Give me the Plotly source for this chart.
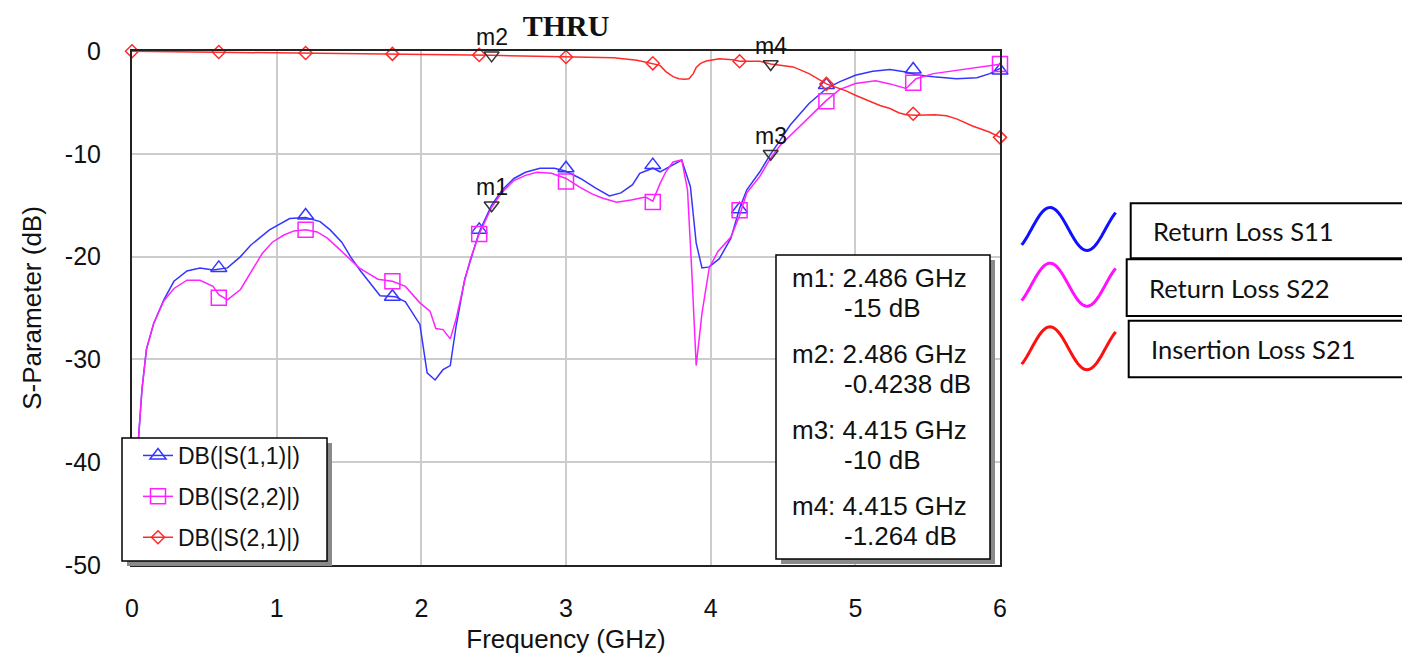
import numpy as np
import plotly.graph_objects as go

# ---------------- data ----------------
s11_f = [0, 0.025, 0.046, 0.069, 0.1, 0.15, 0.22, 0.29, 0.38, 0.47, 0.56, 0.66, 0.75, 0.82, 0.95,
         1.09, 1.2, 1.3, 1.37, 1.45, 1.51, 1.58, 1.65, 1.715, 1.82, 1.89, 1.99, 2.04, 2.095, 2.15,
         2.2, 2.24, 2.3, 2.34, 2.4, 2.486, 2.56, 2.64, 2.72, 2.82, 2.92, 3.0, 3.1, 3.2, 3.3, 3.38,
         3.46, 3.51, 3.557, 3.6, 3.65, 3.72, 3.8, 3.86, 3.9, 3.94, 3.99, 4.06, 4.14, 4.2, 4.25,
         4.34, 4.415, 4.48, 4.55, 4.68, 4.8, 4.89, 5.0, 5.12, 5.24, 5.35, 5.42, 5.54, 5.7, 5.84,
         5.93, 6.0]
s11_db = [-48, -42, -37.5, -32.9, -29, -26.5, -24.2, -22.4, -21.4, -21.1, -21.3, -21.1, -20, -18.9,
          -17.4, -16.3, -16.2, -16.6, -17.4, -18.6, -20, -21.4, -22.6, -23.8, -23.9, -24.4, -26.6,
          -31.3, -32, -31, -30.6, -26.8, -22.2, -20.3, -17.6, -15, -13.5, -12.4, -11.8, -11.4,
          -11.4, -11.7, -12.4, -13.3, -14.1, -13.8, -13, -11.9, -11.6, -11.4, -11.75, -11.25,
          -10.6, -13.2, -18.7, -21.1, -21, -20.2, -18.2, -15.3, -13.5, -11.75, -10, -8.7, -7.2,
          -5.1, -3.65, -3.0, -2.36, -1.97, -1.8, -2.04, -2.3, -2.5, -2.7, -2.6, -2.2, -1.7]

s22_f = [0, 0.025, 0.046, 0.069, 0.1, 0.15, 0.22, 0.29, 0.38, 0.47, 0.56, 0.6, 0.66, 0.75, 0.82,
         0.9, 0.97, 1.05, 1.12, 1.2, 1.28, 1.35, 1.42, 1.5, 1.57, 1.63, 1.7, 1.8, 1.89, 1.99, 2.06,
         2.1, 2.15, 2.2, 2.24, 2.3, 2.34, 2.4, 2.486, 2.56, 2.64, 2.72, 2.8, 2.9, 3.0, 3.1, 3.18,
         3.25, 3.35, 3.45, 3.51, 3.55, 3.6, 3.65, 3.69, 3.74, 3.8, 3.84, 3.87, 3.9, 3.94, 3.99,
         4.05, 4.14, 4.2, 4.25, 4.34, 4.415, 4.48, 4.59, 4.68, 4.8, 4.89, 5.0, 5.14, 5.24, 5.35,
         5.42, 5.54, 5.7, 5.84, 6.0]
s22_db = [-48, -42, -37.5, -32.9, -29, -26.5, -24.3, -23.1, -22.3, -22.3, -22.9, -23.7, -24.2,
          -23.2, -21.6, -19.7, -18.6, -17.9, -17.5, -17.4, -17.6, -18.2, -19.1, -20.2, -21.1,
          -21.6, -22.2, -22.4, -22.9, -24.5, -25.3, -27.0, -27.1, -28.0, -26.1, -22.3, -20.2,
          -17.8, -15.2, -13.7, -12.6, -12.1, -11.8, -11.9, -12.4, -13.3, -13.9, -14.3, -14.7,
          -14.5, -14.3, -14.2, -14.6, -12.9, -11.75, -10.8, -10.6, -13.5, -21.6, -30.6, -25.5,
          -21.1, -19.5, -18.1, -16.0, -13.8, -12.2, -10.4, -9.2, -7.7, -6.4, -4.8, -3.75, -3.17,
          -2.9, -3.2, -3.65, -2.7, -2.2, -1.87, -1.6, -1.3]

s21_f = [0, 0.3, 0.6, 0.9, 1.2, 1.5, 1.8, 2.1, 2.4, 2.486, 2.7, 3.0, 3.33, 3.49, 3.6, 3.65, 3.69,
         3.74, 3.78, 3.82, 3.85, 3.88, 3.9, 3.93, 3.97, 4.06, 4.15, 4.2, 4.34, 4.415, 4.57, 4.68,
         4.8, 4.94, 5.0, 5.17, 5.24, 5.3, 5.35, 5.42, 5.55, 5.63, 5.7, 5.81, 5.93, 6.0]
s21_db = [-0.02, -0.06, -0.1, -0.15, -0.2, -0.24, -0.28, -0.32, -0.38, -0.42, -0.48, -0.58, -0.65,
          -0.9, -1.2, -1.4, -2.0, -2.5, -2.7, -2.75, -2.7, -2.2, -1.6, -1.2, -0.97, -0.75, -0.84,
          -1.0, -1.0, -1.26, -1.55, -2.2, -3.2, -3.9, -4.3, -5.3, -5.6, -6.0, -6.2, -6.25, -6.2,
          -6.3, -6.6, -7.3, -7.9, -8.4]

# symbol positions along each trace
sym_f = [0, 0.6, 1.2, 1.8, 2.4, 3.0, 3.6, 4.2, 4.8, 5.4, 6.0]
s11_sym = [-48, -21.1, -16.0, -23.9, -17.4, -11.4, -11.1, -15.4, -3.3, -1.8, -1.9]
s22_sym = [-48, -24.0, -17.4, -22.4, -17.8, -12.7, -14.7, -15.5, -4.9, -3.1, -1.27]
s21_sym = [-0.02, -0.1, -0.2, -0.28, -0.38, -0.58, -1.2, -1.0, -3.2, -6.1, -8.4]

# markers m1..m4
mk_names = ["m1", "m2", "m3", "m4"]
mk_f = [2.486, 2.486, 4.415, 4.415]
mk_db = [-15, -0.4238, -10, -1.264]

trace_names = ["DB(|S(1,1)|)", "DB(|S(2,2)|)", "DB(|S(2,1)|)"]
side_labels = ["Return Loss S11", "Return Loss S22", "Insertion Loss S21"]
x_ticks = [0, 1, 2, 3, 4, 5, 6]
y_ticks = [0, -10, -20, -30, -40, -50]

# ---------------- layout helpers ----------------
W, H = 1402, 654
L, R, T, B = 132, 402, 51, 89
PW, PH = W - L - R, H - T - B


def px(x):
    return (x - L) / PW


def py(y):
    return (H - B - y) / PH


FONT = "Liberation Sans, Arial, sans-serif"
colors = ["#3535ff", "#ff22ff", "#ff2a2a"]
symbols = ["triangle-up-open", "square-open", "diamond-open"]
sym_sizes = [14, 15, 10]

fig = go.Figure()
series = [(s11_f, s11_db, s11_sym), (s22_f, s22_db, s22_sym), (s21_f, s21_db, s21_sym)]
for i, (f, v, sv) in enumerate(series):
    fig.add_trace(go.Scatter(x=f, y=v, mode="lines", line=dict(color=colors[i], width=1.5),
                             legendgroup=f"g{i}", showlegend=False, hoverinfo="skip"))
    fig.add_trace(go.Scatter(x=sym_f, y=sv, mode="markers",
                             marker=dict(symbol=symbols[i], size=sym_sizes[i], color=colors[i],
                                         line=dict(width=1.5, color=colors[i])),
                             legendgroup=f"g{i}", showlegend=False, cliponaxis=False))
    fig.add_trace(go.Scatter(x=[None], y=[None], mode="lines+markers", name=trace_names[i],
                             line=dict(color=colors[i], width=1.5),
                             marker=dict(symbol=symbols[i], size=sym_sizes[i], color=colors[i],
                                         line=dict(width=1.5, color=colors[i])),
                             legendgroup=f"g{i}", showlegend=True))

fig.add_trace(go.Scatter(x=mk_f, y=mk_db, mode="markers", showlegend=False,
                         marker=dict(symbol="triangle-down-open", size=13, color="#333333",
                                     line=dict(width=1.5, color="#333333")),
                         cliponaxis=False))
for n, f, v in zip(mk_names, mk_f, mk_db):
    fig.add_annotation(x=f, y=v, text=n, showarrow=False, yshift=18,
                       font=dict(family=FONT, size=23, color="#111111"))

shapes = []
# legend frame + shadow
shapes.append(dict(type="rect", xref="paper", yref="paper", x0=px(127), x1=px(332),
                   y0=py(443), y1=py(566), fillcolor="#8a8a8a", line=dict(width=0), layer="above"))
shapes.append(dict(type="rect", xref="paper", yref="paper", x0=px(122), x1=px(327),
                   y0=py(438), y1=py(561), fillcolor="white", line=dict(width=1.5, color="black"),
                   layer="above"))
# marker box + shadow
shapes.append(dict(type="rect", xref="paper", yref="paper", x0=px(781), x1=px(995),
                   y0=py(260), y1=py(564), fillcolor="#8a8a8a", line=dict(width=0), layer="above"))
shapes.append(dict(type="rect", xref="paper", yref="paper", x0=px(776), x1=px(990),
                   y0=py(255), y1=py(559), fillcolor="white", line=dict(width=1.5, color="black"),
                   layer="above"))
row_y = [278, 354, 430, 506]
for n, f, v, ry in zip(mk_names, mk_f, mk_db, row_y):
    fig.add_annotation(xref="paper", yref="paper", x=px(790), y=py(ry), xanchor="left",
                       yanchor="middle", showarrow=False, text=f"{n}: {f:.3f} GHz",
                       font=dict(family=FONT, size=26, color="#111111"))
    fig.add_annotation(xref="paper", yref="paper", x=px(842), y=py(ry + 30), xanchor="left",
                       yanchor="middle", showarrow=False, text=f"{v:g} dB",
                       font=dict(family=FONT, size=26, color="#111111"))

# side legend: sine glyphs and boxes
centers = [229, 284.7, 348.3]
boxes = [(1130.7, 203.3, 258.3), (1126.7, 259.3, 316), (1128.7, 320.7, 377.3)]
text_x = [1151, 1147, 1149]
t = np.linspace(0, 1, 60)
for i, cy in enumerate(centers):
    xs = 1021.7 + t * (1115.7 - 1021.7)
    ph = np.pi / 2 + (xs - 1050) / 74 * 2 * np.pi
    ys = cy - 21.5 * np.sin(ph)
    path = "M " + " L ".join(f"{px(a):.5f},{py(b):.5f}" for a, b in zip(xs, ys))
    shapes.append(dict(type="path", xref="paper", yref="paper", path=path,
                       line=dict(color=["#1010ff", "#ff10ff", "#ff1010"][i], width=3)))
    bx, by0, by1 = boxes[i]
    shapes.append(dict(type="rect", xref="paper", yref="paper", x0=px(bx), x1=px(1410),
                       y0=py(by0), y1=py(by1), line=dict(color="black", width=2)))
    fig.add_annotation(xref="paper", yref="paper", x=px(text_x[i]), y=py((by0 + by1) / 2),
                       xanchor="left", yanchor="middle", showarrow=False, text=side_labels[i],
                       font=dict(family="Lato, Carlito, sans-serif", size=25.5, color="#111111"))

fig.update_layout(
    width=W, height=H, margin=dict(l=L, r=R, t=T, b=B, autoexpand=False),
    paper_bgcolor="white", plot_bgcolor="white",
    title=dict(text="<b>THRU</b>", xref="paper", x=0.5, xanchor="center",
               yref="container", y=1 - 25 / H, yanchor="middle",
               font=dict(family="Liberation Serif, Times New Roman, serif", size=30, color="#111111")),
    shapes=shapes,
    showlegend=True,
    legend=dict(x=px(122), y=py(434), xanchor="left", yanchor="top", bgcolor="rgba(0,0,0,0)",
                borderwidth=0, tracegroupgap=8, indentation=16,
                font=dict(family=FONT, size=23, color="#111111"), itemwidth=30),
    xaxis=dict(range=[0, 6], tickvals=x_ticks, ticktext=[str(v) for v in x_ticks],
               showgrid=True, gridcolor="#cccccc", gridwidth=1.5, zeroline=False,
               showline=True, mirror=True, linecolor="#222222", linewidth=2, ticks="",
               ticklabelstandoff=20, tickfont=dict(family=FONT, size=25, color="#111111"),
               title=dict(text="Frequency (GHz)", standoff=14,
                          font=dict(family=FONT, size=26, color="#111111"))),
    yaxis=dict(range=[-50, 0], tickvals=y_ticks, ticktext=[str(v) for v in y_ticks],
               showgrid=True, gridcolor="#cccccc", gridwidth=1.5, zeroline=False,
               showline=True, mirror=True, linecolor="#222222", linewidth=2, ticks="",
               ticklabelstandoff=24, tickfont=dict(family=FONT, size=25, color="#111111"),
               title=dict(text="S-Parameter (dB)", standoff=16,
                          font=dict(family=FONT, size=26, color="#111111"))),
)

fig.write_html("out.html")
